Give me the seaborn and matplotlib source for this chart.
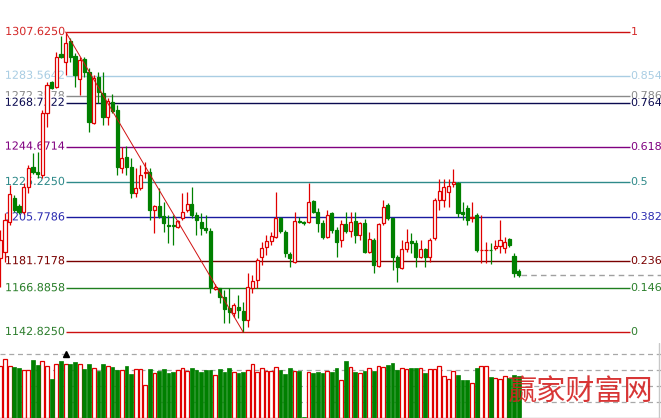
import numpy as np
import pandas as pd
import matplotlib
matplotlib.use("Agg")
import matplotlib.pyplot as plt
import matplotlib.patheffects as pe
import seaborn as sns

# ---------------- data ----------------
opens = [1183.5, 1186.8, 1203.3, 1216.4, 1212.0, 1208.8, 1222.5, 1233.5, 1230.7, 1229.1,
         1263.1, 1280.2, 1277.4, 1295.5, 1291.1, 1302.7, 1294.4, 1281.8, 1292.8, 1285.7,
         1257.6, 1282.9, 1274.1, 1260.9, 1269.2, 1264.8, 1232.9, 1238.9, 1233.5, 1219.2,
         1221.9, 1229.9, 1230.7, 1209.9, 1212.0, 1206.6, 1201.6, 1201.6, 1200.5, 1205.5,
         1209.9, 1213.1, 1207.2, 1203.3, 1199.9, 1198.3, 1166.7, 1167.0, 1162.1, 1156.0,
         1153.3, 1156.6, 1154.4, 1149.4, 1167.0, 1171.4, 1184.0, 1189.5, 1192.8, 1195.0,
         1205.5, 1197.8, 1185.7, 1181.3, 1203.8, 1203.3, 1203.3, 1214.8, 1208.8, 1202.7,
         1195.0, 1208.2, 1198.9, 1193.4, 1202.2, 1198.3, 1203.8, 1196.1, 1202.7, 1186.8,
         1193.4, 1179.1, 1202.7, 1212.6, 1205.5, 1184.0, 1178.0, 1188.4, 1192.8, 1191.7,
         1184.0, 1188.4, 1184.0, 1194.5, 1215.3, 1215.3, 1219.7, 1224.4, 1224.7, 1208.6,
         1211.0, 1205.2, 1207.2, 1187.6, 1187.6, 1188.1, 1189.0, 1190.1, 1189.0, 1193.9,
         1184.6, 1176.3]
highs = [1198.9, 1208.2, 1223.6, 1218.1, 1213.1, 1224.7, 1234.6, 1241.2, 1241.7, 1264.8,
         1280.2, 1280.7, 1296.6, 1305.4, 1307.625, 1304.3, 1296.1, 1293.9, 1293.9, 1287.8,
         1284.0, 1285.7, 1285.7, 1271.4, 1273.6, 1267.5, 1244.5, 1245.0, 1238.4, 1232.9,
         1234.6, 1236.2, 1232.9, 1212.6, 1221.9, 1214.2, 1207.2, 1207.2, 1204.4, 1219.2,
         1219.7, 1222.5, 1208.8, 1208.2, 1207.2, 1199.9, 1169.2, 1167.0, 1165.9, 1167.0,
         1158.8, 1163.2, 1159.3, 1175.2, 1174.1, 1183.5, 1192.3, 1196.1, 1197.8, 1219.7,
         1206.0, 1198.9, 1186.8, 1208.8, 1206.0, 1203.8, 1224.7, 1215.3, 1211.0, 1204.4,
         1209.9, 1208.8, 1200.5, 1204.4, 1208.8, 1208.8, 1208.8, 1203.3, 1204.9, 1197.8,
         1194.5, 1202.7, 1215.3, 1213.7, 1205.5, 1185.1, 1193.4, 1199.4, 1197.2, 1193.4,
         1193.4, 1189.0, 1194.5, 1216.4, 1226.9, 1226.9, 1226.9, 1232.4, 1225.2, 1214.2,
         1212.6, 1214.2, 1208.2, 1207.2, 1192.3, 1191.7, 1193.4, 1204.4, 1195.0, 1194.5,
         1186.2, 1177.4]
lows = [1167.6, 1181.3, 1201.6, 1208.8, 1207.7, 1207.7, 1219.2, 1229.6, 1227.4, 1227.4,
        1255.4, 1276.3, 1276.9, 1293.3, 1284.0, 1291.1, 1277.4, 1273.0, 1282.9, 1252.7,
        1257.0, 1268.6, 1256.5, 1256.5, 1263.1, 1229.1, 1230.2, 1229.1, 1216.4, 1216.9,
        1220.8, 1227.4, 1204.4, 1197.2, 1205.5, 1197.8, 1191.7, 1190.6, 1199.9, 1204.4,
        1208.8, 1205.5, 1196.1, 1196.1, 1197.2, 1164.3, 1165.9, 1158.8, 1147.8, 1147.8,
        1151.1, 1150.5, 1142.825, 1145.6, 1164.3, 1167.0, 1179.6, 1185.1, 1190.6, 1194.5,
        1197.2, 1184.0, 1178.5, 1181.0, 1202.7, 1201.6, 1202.7, 1208.2, 1197.8, 1193.9,
        1194.5, 1197.2, 1184.0, 1189.5, 1197.2, 1195.0, 1191.7, 1193.4, 1186.2, 1186.2,
        1175.2, 1178.5, 1201.6, 1204.4, 1176.9, 1170.3, 1177.4, 1186.8, 1186.2, 1178.5,
        1183.5, 1178.5, 1181.3, 1193.4, 1209.9, 1211.5, 1211.5, 1222.5, 1206.0, 1204.4,
        1201.6, 1203.3, 1186.8, 1180.7, 1180.7, 1180.2, 1187.9, 1186.2, 1186.2, 1189.5,
        1173.0, 1173.0]
closes = [1193.4, 1204.4, 1218.6, 1209.9, 1208.8, 1222.5, 1232.9, 1230.7, 1229.6, 1263.1,
          1278.5, 1276.9, 1293.9, 1293.9, 1301.6, 1293.9, 1284.0, 1292.2, 1285.7, 1258.2,
          1282.4, 1274.7, 1260.9, 1269.7, 1264.2, 1233.5, 1238.4, 1233.5, 1219.2, 1221.9,
          1229.1, 1230.7, 1209.9, 1212.0, 1206.6, 1202.7, 1200.8, 1200.8, 1203.8, 1208.8,
          1213.1, 1207.2, 1204.4, 1199.9, 1198.9, 1167.6, 1167.6, 1162.1, 1155.5, 1153.8,
          1157.7, 1154.9, 1149.4, 1167.6, 1170.8, 1182.4, 1189.0, 1192.8, 1195.5, 1205.5,
          1198.3, 1186.2, 1183.5, 1203.8, 1203.3, 1202.7, 1214.2, 1208.8, 1202.7, 1195.0,
          1207.2, 1198.9, 1192.3, 1202.2, 1198.3, 1203.3, 1196.1, 1202.7, 1186.8, 1193.9,
          1179.6, 1202.2, 1211.5, 1205.5, 1184.0, 1178.5, 1188.4, 1192.3, 1191.7, 1184.0,
          1188.4, 1184.0, 1193.4, 1215.3, 1220.3, 1222.5, 1223.0, 1225.2, 1208.2, 1207.7,
          1204.4, 1206.0, 1187.9, 1188.1, 1188.1, 1187.6, 1190.1, 1193.4, 1192.3, 1190.6,
          1175.2, 1174.1]
volumes = [3.25, 3.67, 3.25, 3.19, 3.15, 2.98, 2.98, 3.63, 3.31, 3.56,
           3.25, 2.46, 3.40, 3.56, 3.40, 3.35, 3.50, 3.35, 3.04, 3.40,
           3.15, 2.94, 3.40, 3.25, 3.19, 2.98, 2.98, 3.25, 2.75, 3.04,
           3.04, 2.06, 3.04, 2.79, 2.94, 3.04, 2.79, 2.90, 2.98, 3.15,
           2.94, 3.10, 2.98, 2.88, 2.98, 2.98, 2.69, 3.04, 2.88, 3.10,
           2.88, 2.83, 2.88, 2.98, 3.35, 2.88, 3.10, 2.94, 2.94, 3.19,
           2.98, 2.73, 3.10, 2.94, 2.94, 0.05, 2.88, 2.83, 2.88, 2.83,
           2.94, 2.88, 3.15, 2.35, 3.56, 3.19, 2.90, 2.81, 2.94, 3.10,
           2.94, 3.25, 3.19, 3.29, 3.46, 2.98, 3.10, 3.04, 3.10, 3.10,
           3.10, 2.83, 3.04, 3.04, 3.25, 2.60, 2.46, 2.94, 2.69, 2.35,
           2.35, 2.16, 3.10, 3.25, 3.25, 2.56, 2.52, 2.46, 2.63, 2.52,
           2.69, 2.60]
volume_grid = [1, 2, 3, 4]

fib_high = 1307.625
fib_low = 1142.825
fib_ratios = [1, 0.854, 0.786, 0.764, 0.618, 0.5, 0.382, 0.236, 0.146, 0]
fib_left_labels = ["1307.6250", "1283.5642", "1272.3578", "1268.7322", "1244.6714",
                   "1225.2250", "1205.7786", "1181.7178", "1166.8858", "1142.8250"]
fib_right_labels = ["1", "0.854", "0.786", "0.764", "0.618", "0.5", "0.382",
                    "0.236", "0.146", "0"]
swing_high_idx = 14
swing_low_idx = 52
watermark = "赢家财富网"

# ---------------- styles ----------------
line_colors = ["#cc1010", "#a9cde3", "#8a8a8a", "#0a0a50", "#800080",
               "#2f8a8a", "#1a1aa0", "#7a0000", "#1f7f1f", "#cc1010"]
text_colors = ["#d42a2a", "#a9cde3", "#8a8a8a", "#0a0a50", "#800080",
               "#2f8a8a", "#2a2ab0", "#7a0000", "#2a7f2a", "#2f7f2f"]
UP = "#e00000"
DOWN = "#008000"

sns.set_theme(style="white")
plt.rcParams['font.family'] = ['DejaVu Sans', 'Noto Sans CJK SC']

W, H = 661, 418
fig = plt.figure(figsize=(W / 100, H / 100), dpi=100)
fig.patch.set_facecolor("white")
ax = fig.add_axes([0, 77 / H, 1, 341 / H])
axv = fig.add_axes([0, 0, 1, 75 / H], sharex=ax)

o = np.array(opens); c = np.array(closes); hi = np.array(highs); lo = np.array(lows)
n = len(o)
idx = np.arange(n)
up = c >= o

# x mapping: candle i at pixel 0.3 + 4.67 i
x0 = -0.3 / 4.67
x1 = (W - 0.3) / 4.67
ax.set_xlim(x0, x1)
# y mapping: 1307.625 at y=32 px, 1142.825 at y=332 px, axes height 341 px
ppu = 300 / (fib_high - fib_low)
ax.set_ylim(fib_high - (341 - 32) / ppu, fib_high + 32 / ppu)

# Fibonacci levels
line_end = (630 - 0.3) / 4.67
halo = [pe.withStroke(linewidth=2.2, foreground="white")]
for r, ll, rl, lc, tc in zip(fib_ratios, fib_left_labels, fib_right_labels, line_colors, text_colors):
    lvl = fib_low + r * (fib_high - fib_low)
    ax.hlines(lvl, swing_high_idx, line_end, color=lc, lw=1.0, zorder=1)
    ax.text(swing_high_idx - 0.15, lvl, ll, ha="right", va="center", color=tc,
            fontsize=8, zorder=2, path_effects=halo)
    ax.text(line_end + 0.15, lvl, rl, ha="left", va="center", color=tc,
            fontsize=8, zorder=2)

# candles
cols = np.where(up, UP, DOWN)
ax.vlines(idx, lo, hi, colors=cols, lw=0.9, zorder=3)
bottoms = np.minimum(o, c)
heights = np.maximum(np.abs(c - o), 0.5)
ax.bar(idx, heights, bottom=bottoms, width=0.66,
       facecolor=np.where(up, "white", DOWN), edgecolor=cols, linewidth=0.9, zorder=4)

# swing line and current price
ax.plot([swing_high_idx, swing_low_idx], [fib_high, fib_low], color="#d01010", lw=0.7, zorder=5)
ax.hlines(c[-1], n - 0.6, x1, color="#a0a0a0", lw=1.0, linestyles=(0, (4, 3)), zorder=2)
ax.set_axis_off()

# volume
df = pd.DataFrame({"idx": idx, "vol": volumes, "dir": np.where(up, "up", "down")})
for g in volume_grid:
    axv.axhline(g, color="#a8a8a8", lw=0.9, ls=(0, (4, 3)), zorder=0)
sns.barplot(data=df, x="idx", y="vol", hue="dir", palette={"up": UP, "down": DOWN},
            native_scale=True, dodge=False, width=0.8, errorbar=None, legend=False,
            saturation=1, ax=axv, zorder=2)
for p in axv.patches:
    fc = p.get_facecolor()
    if fc[0] > 0.5:
        p.set_facecolor("white")
        p.set_edgecolor(UP)
        p.set_linewidth(0.9)
    else:
        p.set_edgecolor(DOWN)
        p.set_linewidth(0.5)
axv.plot([swing_high_idx], [4.0], marker="^", color="black", markersize=4.5, zorder=3)
axv.set_xlim(x0, x1)
axv.set_ylim(0, 75 / 16)
axv.axhline(0.03, xmin=521 / W, xmax=1, color="#b0b0b0", lw=1)
axv.axvline((659 - 0.3) / 4.67, color="#c8c8c8", lw=1)
axv.set_axis_off()

fig.text(581 / W, 1 - 392 / H, watermark, color="#d42020", fontsize=21,
         family=["Noto Sans CJK SC"], fontweight="light", ha="center", va="center",
         zorder=10, alpha=0.9)

fig.savefig("out.png", dpi=100, facecolor="white")
